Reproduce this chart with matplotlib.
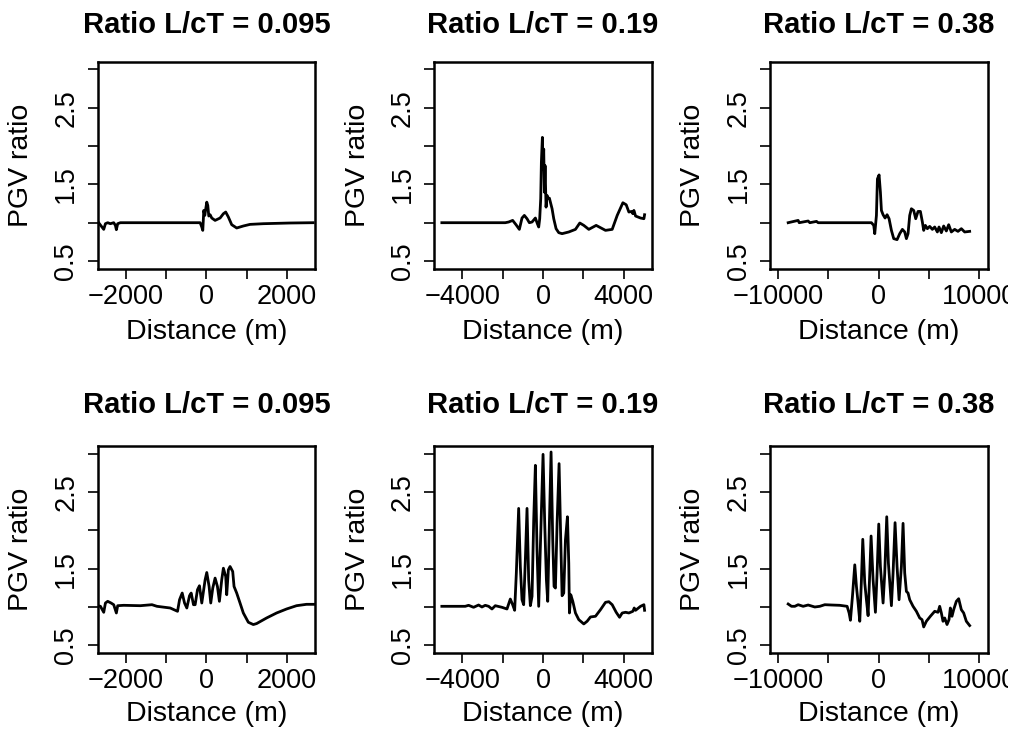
import matplotlib
matplotlib.use("Agg")
import matplotlib.pyplot as plt
from matplotlib.transforms import Bbox, TransformedBbox

plt.rcParams['font.family'] = ['Liberation Sans', 'DejaVu Sans']

# ---- data (distance in m, PGV ratio) ----
x_top1 = [-2680, -2554, -2512, -2455, -2388, -2306, -2264, -2240, -2207, -2140, -157, -116, -91,
          -66, -41, -17, 8, 33, 58, 91, 132, 215, 339, 421, 479, 545, 628, 752, 917, 1083, 1413,
          2074, 2653]
y_top1 = [1.00, 0.913, 0.987, 1.00, 0.987, 1.00, 0.965, 0.909, 0.987, 1.00, 1.00, 0.944, 0.900,
          1.160, 1.095, 1.182, 1.268, 1.225, 1.087, 1.104, 1.061, 1.030, 1.061, 1.117, 1.139, 1.074,
          0.974, 0.931, 0.957, 0.978, 0.987, 0.996, 1.00]

x_top2 = [-5025, -1874, -1708, -1509, -1343, -1177, -1045, -929, -796, -680, -547, -381, -282,
          -216, -166, -116, -83, -33, 0, 33, 66, 100, 149, 199, 249, 315, 365, 448, 531, 647, 779,
          945, 1277, 1609, 1824, 2023, 2272, 2637, 2852, 3101, 3433, 3682, 3964, 4129, 4262, 4395,
          4461, 4511, 4594, 4842, 5008, 5041]
y_top2 = [1.00, 1.00, 1.009, 1.030, 0.974, 0.913, 1.061, 1.095, 1.052, 1.00, 1.009, 1.061, 0.987,
          0.944, 1.052, 1.312, 1.788, 2.113, 1.701, 1.961, 1.398, 1.745, 1.203, 1.355, 1.320, 1.320,
          1.268, 1.182, 1.052, 0.922, 0.870, 0.857, 0.879, 0.913, 0.996, 0.965, 0.913, 0.965, 0.935,
          0.900, 0.913, 1.095, 1.260, 1.234, 1.139, 1.147, 1.117, 1.160, 1.087, 1.061, 1.052, 1.104]

x_top3 = [-8995, -8003, -7903, -7011, -6845, -6184, -6019, -728, -496, -397, -231, -132, 33, 165,
          265, 430, 628, 827, 1025, 1257, 1488, 1819, 2083, 2348, 2579, 2745, 2910, 3075, 3241,
          3472, 3671, 3902, 4134, 4332, 4464, 4630, 4828, 5060, 5324, 5556, 5820, 5985, 6217, 6448,
          6713, 6944, 7209, 7540, 7870, 8201, 8532, 9028]
y_top3 = [1.00, 1.030, 1.00, 1.022, 1.00, 1.017, 1.00, 1.00, 0.965, 0.857, 1.095, 1.571, 1.623,
          1.398, 1.160, 1.104, 1.061, 1.104, 1.052, 0.900, 0.792, 0.779, 0.857, 0.913, 0.879, 0.792,
          0.857, 1.095, 1.182, 1.160, 1.052, 1.147, 1.147, 1.009, 0.900, 0.965, 0.922, 0.952, 0.913,
          0.944, 0.879, 0.944, 0.870, 0.957, 0.892, 0.974, 0.879, 0.913, 0.887, 0.922, 0.879, 0.887]

x_bot1 = [-2702, -2636, -2554, -2512, -2455, -2372, -2306, -2240, -2207, -2058, -1645, -1355,
          -1231, -901, -719, -669, -603, -545, -488, -421, -380, -322, -281, -223, -174, -116, -33,
          8, 66, 107, 157, 215, 273, 322, 380, 421, 479, 504, 545, 587, 653, 686, 752, 835, 917,
          1041, 1165, 1248, 1496, 1744, 1992, 2240, 2488, 2669]
y_bot1 = [1.017, 1.009, 0.931, 1.052, 1.074, 1.052, 1.030, 0.922, 1.017, 1.022, 1.017, 1.030,
          1.009, 0.987, 0.944, 1.095, 1.182, 1.052, 0.987, 1.147, 1.182, 1.030, 1.030, 1.225, 1.277,
          1.052, 1.355, 1.450, 1.268, 1.052, 1.247, 1.377, 1.268, 1.074, 1.355, 1.506, 1.398, 1.160,
          1.485, 1.528, 1.463, 1.268, 1.182, 1.052, 0.922, 0.801, 0.771, 0.784, 0.857, 0.922, 0.974,
          1.017, 1.035, 1.035]

x_bot2 = [-5025, -3864, -3698, -3449, -3201, -3035, -2869, -2703, -2537, -2371, -2040, -1791,
          -1625, -1509, -1410, -1327, -1211, -1128, -1045, -962, -879, -796, -713, -630, -547,
          -464, -381, -299, -216, -133, 0, 83, 166, 232, 315, 398, 481, 547, 614, 697, 796, 879,
          945, 1028, 1111, 1211, 1277, 1310, 1376, 1476, 1609, 1774, 2023, 2189, 2355, 2604, 2852,
          3101, 3267, 3433, 3632, 3798, 3930, 4096, 4262, 4461, 4527, 4594, 4842, 5008, 5041]
y_bot2 = [1.009, 1.009, 1.022, 0.996, 1.026, 1.00, 1.022, 1.009, 0.974, 1.017, 0.996, 0.974,
          1.104, 1.030, 0.957, 1.442, 2.286, 1.528, 1.095, 1.030, 1.615, 2.286, 1.355, 1.017, 1.139,
          2.134, 2.848, 1.745, 1.009, 1.788, 2.991, 2.091, 1.355, 1.074, 2.091, 3.022, 1.874, 1.268,
          1.247, 2.091, 2.870, 1.874, 1.147, 1.182, 1.874, 2.177, 1.571, 0.922, 1.160, 1.074, 0.922,
          0.835, 0.779, 0.814, 0.870, 0.879, 0.965, 1.061, 1.069, 1.030, 0.931, 0.866, 0.922, 0.931,
          0.922, 0.944, 0.987, 0.957, 1.009, 1.030, 0.957]

x_bot3 = [-8995, -8664, -8333, -8003, -7507, -7011, -6349, -5853, -5357, -4696, -3869, -3142,
          -2943, -2811, -2612, -2381, -2216, -2050, -1885, -1720, -1587, -1389, -1224, -1058, -893,
          -761, -562, -331, -165, 0, 165, 430, 595, 794, 959, 1257, 1422, 1620, 1819, 2017, 2249,
          2414, 2579, 2745, 2910, 3075, 3406, 3737, 4067, 4299, 4464, 4729, 5126, 5556, 5886, 6052,
          6217, 6382, 6548, 6779, 6978, 7110, 7275, 7440, 7705, 7937, 8201, 8433, 8697, 9028]
y_bot3 = [1.039, 1.009, 1.009, 1.030, 1.009, 1.026, 1.00, 1.009, 1.030, 1.026, 1.022, 1.009,
          0.922, 0.827, 1.139, 1.550, 1.268, 1.052, 0.814, 1.355, 1.883, 1.312, 1.095, 0.887, 1.442,
          1.926, 1.355, 0.931, 1.442, 2.082, 1.528, 1.052, 1.442, 2.177, 1.571, 1.017, 1.442, 2.100,
          1.528, 1.095, 1.528, 2.091, 1.442, 1.203, 1.182, 1.095, 1.009, 0.944, 0.857, 0.835, 0.740,
          0.814, 0.879, 0.944, 0.931, 1.009, 0.922, 0.814, 0.857, 0.771, 0.835, 0.987, 0.879, 0.965,
          1.074, 1.108, 0.965, 0.922, 0.814, 0.758]

titles = ["Ratio L/cT = 0.095", "Ratio L/cT = 0.19", "Ratio L/cT = 0.38"]
xlims = [2704, 5400, 10800]
xticks = [[-2000, -1000, 0, 1000, 2000],
          [-4000, -2000, 0, 2000, 4000],
          [-10000, -5000, 0, 5000, 10000]]
yticks = [0.5, 1.0, 1.5, 2.0, 2.5, 3.0]
ytick_labels = ["0.5", "", "1.5", "", "2.5", ""]

curves = [[(x_top1, y_top1), (x_top2, y_top2), (x_top3, y_top3)],
          [(x_bot1, y_bot1), (x_bot2, y_bot2), (x_bot3, y_bot3)]]

W, H = 1022, 737
fig = plt.figure(figsize=(W / 100, H / 100), dpi=100)

left_px = [97.7, 434.3, 770.0]
top_px = [61.7, 446.0]
w_px, h_px = 217.5, 207.0
title_pad = [21, 23.5]
xlab_y = [-0.245, -0.23]

# clip labels at the right edge of the original drawing area (1008 px)
clip = TransformedBbox(Bbox.from_extents(0, 0, 1008 / W, 1), fig.transFigure)

fs_tick = 19.5
fs_lab = 20.5
for r in range(2):
    for c in range(3):
        ax = fig.add_axes([left_px[c] / W, 1 - (top_px[r] + h_px) / H, w_px / W, h_px / H])
        xs, ys = curves[r][c]
        ax.plot(xs, ys, color="black", lw=2.0)
        ax.set_xlim(-xlims[c], xlims[c])
        ax.set_ylim(0.4, 3.1)

        ticks = xticks[c]
        ax.set_xticks(ticks)
        ax.set_xticklabels([f"{t:d}".replace("-", "\u2212") if i % 2 == 0 else ""
                            for i, t in enumerate(ticks)])
        ax.set_yticks(yticks)
        ax.set_yticklabels(ytick_labels)

        for s in ax.spines.values():
            s.set_linewidth(1.8)
        ax.tick_params(axis="both", direction="out", length=7.2, width=1.2,
                       labelsize=fs_tick, color="black")
        ax.tick_params(axis="x", pad=3.5)
        ax.tick_params(axis="y", pad=6, labelrotation=90)
        for lab in ax.get_yticklabels():
            lab.set_va("center")
        for lab in ax.get_xticklabels():
            lab.set_clip_box(clip)
            lab.set_clip_on(True)

        ax.set_xlabel("Distance (m)", fontsize=fs_lab)
        ax.xaxis.set_label_coords(0.5, xlab_y[r])
        ax.set_ylabel("PGV ratio", fontsize=fs_lab)
        ax.yaxis.set_label_coords(-0.293, 0.5)
        ax.set_title(titles[c], fontsize=21, fontweight="bold", pad=title_pad[r])

fig.savefig("out.png", dpi=100)
